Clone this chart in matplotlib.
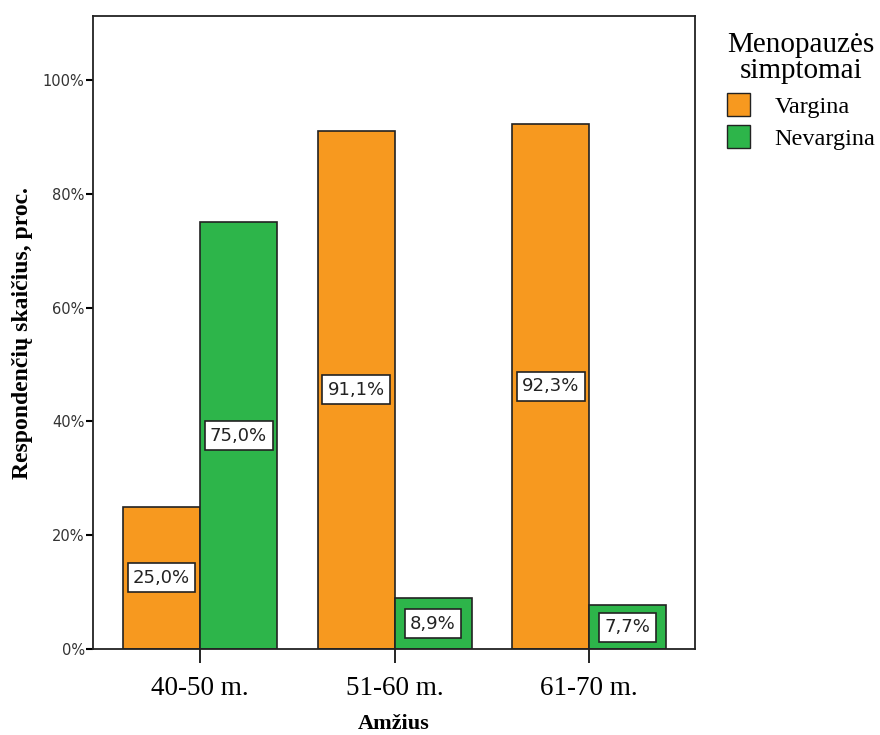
import numpy as np
import matplotlib.pyplot as plt
from matplotlib.patches import Patch

# =========================
# Duomenys
# =========================
groups = ["40-50 m.", "51-60 m.", "61-70 m."]
vargina = [25.0, 91.1, 92.3]
nevargina = [75.0, 8.9, 7.7]
series_names = ["Vargina", "Nevargina"]

orange = "#F7991F"
green = "#2DB54A"

plt.rcParams["font.family"] = ["Liberation Serif", "DejaVu Serif"]

fig = plt.figure(figsize=(8.8, 7.35), dpi=100)
ax = fig.add_axes([0.1057, 0.117, 0.6843, 0.861])

x = np.arange(len(groups))
w = 0.396
b1 = ax.bar(x - w / 2, vargina, w, color=orange, edgecolor="#222222", linewidth=1.2)
b2 = ax.bar(x + w / 2, nevargina, w, color=green, edgecolor="#222222", linewidth=1.2)

# reikšmių žymės bare viduryje
for bars, vals in [(b1, vargina), (b2, nevargina)]:
    for rect, v in zip(bars, vals):
        ax.text(rect.get_x() + rect.get_width() / 2, v / 2,
                f"{v:.1f}%".replace(".", ","),
                ha="center", va="center", fontsize=13, family="DejaVu Sans",
                color="#222222",
                bbox=dict(boxstyle="square,pad=0.3", facecolor="white",
                          edgecolor="#222222", linewidth=1.2))

ax.set_xlim(-0.55, 2.545)
ax.set_ylim(0, 111.2)
ax.set_xticks(x)
ax.set_xticklabels(groups, fontsize=19.5)
ax.set_yticks([0, 20, 40, 60, 80, 100])
ax.set_yticklabels([f"{t}%" for t in [0, 20, 40, 60, 80, 100]],
                   fontsize=10.5, family="DejaVu Sans", color="#333333")
ax.tick_params(axis="x", length=10, width=1.2, pad=9.5)
ax.tick_params(axis="y", length=5, width=1.5, pad=1)
for s in ax.spines.values():
    s.set_linewidth(1.3)
    s.set_color("#222222")

ax.set_xlabel("Amžius", fontsize=16, fontweight="bold", labelpad=9)
ax.set_ylabel("Respondenčių skaičius, proc.", fontsize=17, fontweight="bold", labelpad=7.5)

handles = [Patch(facecolor=orange, edgecolor="#222222"),
           Patch(facecolor=green, edgecolor="#222222")]
leg = fig.legend(handles, series_names, title="Menopauzės\nsimptomai",
                 loc="upper left", bbox_to_anchor=(0.826, 0.957),
                 frameon=False, fontsize=17.5, title_fontsize=21,
                 borderpad=0, borderaxespad=0,
                 handlelength=0.95, handleheight=1.05, handletextpad=1.0,
                 labelspacing=0.3)
leg.get_title().set_multialignment("center")
leg.get_title().set_linespacing(1.0)
leg._legend_box.sep = 7

fig.savefig("out.png", dpi=100)
